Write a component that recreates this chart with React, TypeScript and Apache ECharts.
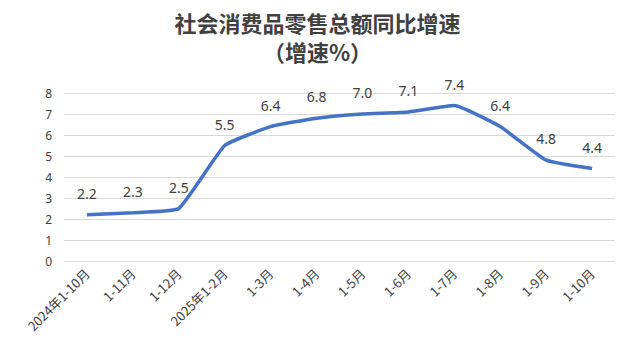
import React, { useEffect, useRef } from "react";
import * as echarts from "echarts";

const categories = ["2024年1-10月", "1-11月", "1-12月", "2025年1-2月", "1-3月", "1-4月", "1-5月", "1-6月", "1-7月", "1-8月", "1-9月", "1-10月"];
const growth = [2.2, 2.3, 2.5, 5.5, 6.4, 6.8, 7.0, 7.1, 7.4, 6.4, 4.8, 4.4];
const titleLines = ["社会消费品零售总额同比增速", "（增速%）"];

export default function App() {
  const ref = useRef<HTMLDivElement>(null);
  useEffect(() => {
    if (!ref.current) return;
    const chart = echarts.init(ref.current, null, { renderer: "svg" });
    const titleStyle = {
      fontFamily: "Noto Sans CJK SC",
      fontSize: 22,
      fontWeight: "bold",
      color: "#404040",
    };
    chart.setOption({
      animation: false,
      backgroundColor: "#ffffff",
      title: [
        { text: titleLines[0], left: "center", top: 10, padding: 0, textStyle: titleStyle },
        { text: titleLines[1], left: "center", top: 39, padding: 0, textStyle: titleStyle },
      ],
      grid: { left: 63, right: 19, top: 92, bottom: 100, containLabel: false },
      xAxis: {
        type: "category",
        data: categories,
        boundaryGap: true,
        axisLine: { show: false },
        axisTick: { show: false },
        axisLabel: {
          rotate: 45,
          interval: 0,
          fontSize: 13,
          color: "#404040",
          fontFamily: "Noto Sans CJK SC",
          margin: 10,
        },
      },
      yAxis: {
        type: "value",
        min: 0,
        max: 8,
        interval: 1,
        axisLine: { show: false },
        axisTick: { show: false },
        axisLabel: { fontSize: 12, color: "#404040", margin: 12, fontFamily: "Noto Sans" },
        splitLine: { lineStyle: { color: "#d9d9d9", width: 1 } },
      },
      series: [
        {
          type: "line",
          data: growth,
          smooth: 0.12,
          symbol: "circle",
          symbolSize: 1,
          itemStyle: { color: "#4472c4", opacity: 0 },
          lineStyle: { color: "#4472c4", width: 3.5 },
          label: {
            show: true,
            position: "top",
            distance: 14,
            fontSize: 14,
            color: "#404040",
            fontFamily: "Noto Sans",
            opacity: 1,
            formatter: (p: any) => Number(p.value).toFixed(1),
          },
        },
      ],
    });
    return () => chart.dispose();
  }, []);
  return (
    <div style={{ width: 635, height: 362, boxSizing: "border-box", border: "1px solid #d9d9d9", margin: -8 }}>
      <div ref={ref} style={{ width: 633, height: 360 }} />
    </div>
  );
}
